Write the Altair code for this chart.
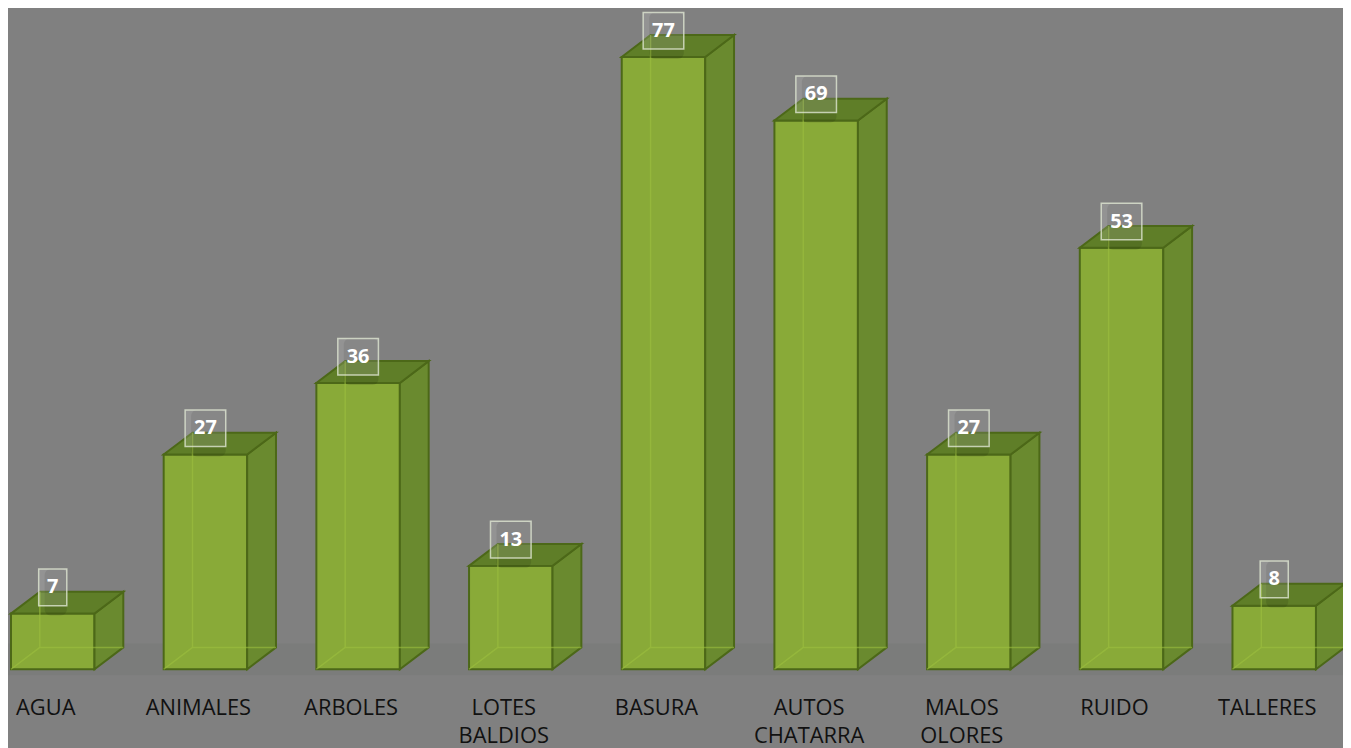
import altair as alt
import pandas as pd

categories = ["AGUA", "ANIMALES", "ARBOLES", "LOTES BALDIOS", "BASURA",
              "AUTOS CHATARRA", "MALOS OLORES", "RUIDO", "TALLERES"]
values = [7, 27, 36, 13, 77, 69, 27, 53, 8]
label_lines = [["AGUA"], ["ANIMALES"], ["ARBOLES"], ["LOTES", "BALDIOS"], ["BASURA"],
               ["AUTOS", "CHATARRA"], ["MALOS", "OLORES"], ["RUIDO"], ["TALLERES"]]

# geometry (in data units)
HW = 0.2734      # half width of front face
DX = 0.1888      # depth in x
DY = 2.75        # depth in y
W, H = 1343, 740
XMIN, XMAX = -0.293, -0.293 + W / 153.6
YMIN = -(H - 663) / 8.0
YMAX = YMIN + H / 8.0

front, side, top, edges, boxes, labels = [], [], [], [], [], []
for i, (c, v) in enumerate(zip(categories, values)):
    L, R = i - HW, i + HW
    front.append(dict(cat=c, x=L, x2=R, y=0, y2=v))
    side.append(dict(cat=c, x=R, y=v, y2=0))
    side.append(dict(cat=c, x=R + DX, y=v + DY, y2=DY))
    top.append(dict(cat=c, y=v, x=L, x2=R))
    top.append(dict(cat=c, y=v + DY, x=L + DX, x2=R + DX))
    edges.append(dict(cat=c, x=L + DX, x2=L + DX, y=DY, y2=v + DY))
    edges.append(dict(cat=c, x=L + DX, x2=R + DX, y=DY, y2=DY))
    edges.append(dict(cat=c, x=L, x2=L + DX, y=0, y2=DY))
    bw = 0.092 if len(str(v)) == 1 else 0.133
    boxes.append(dict(cat=c, x=i - bw, x2=i + bw, y=v + 3.3 - 2.3, y2=v + 3.3 + 2.3,
                      yc=v + 3.3, xc=i, t=str(v)))
    labels.append(dict(cat=c, x=i - 0.046, y=-4.9, t=label_lines[i]))

xs = alt.Scale(domain=[XMIN, XMAX], nice=False, zero=False)
ys = alt.Scale(domain=[YMIN, YMAX], nice=False, zero=False)
noax = None

floor = alt.Chart(pd.DataFrame([dict(x=XMIN, x2=XMAX, y=-0.75, y2=3.25)])).mark_rect(
    color="#7b7c7b").encode(
    x=alt.X("x:Q", scale=xs, axis=noax), x2="x2:Q",
    y=alt.Y("y:Q", scale=ys, axis=noax), y2="y2:Q")

front_l = alt.Chart(pd.DataFrame(front)).mark_rect(
    color="#89aa38", stroke="#4c6818", strokeWidth=2).encode(
    x=alt.X("x:Q", scale=xs, axis=noax), x2="x2:Q",
    y=alt.Y("y:Q", scale=ys, axis=noax), y2="y2:Q")

side_l = alt.Chart(pd.DataFrame(side)).mark_area(
    color="#6a8a2f", stroke="#4c6818", strokeWidth=2, line=False, interpolate="linear").encode(
    x=alt.X("x:Q", scale=xs, axis=noax),
    y=alt.Y("y:Q", scale=ys, axis=noax), y2="y2:Q",
    detail="cat:N")

top_l = alt.Chart(pd.DataFrame(top)).mark_area(
    color="#5f7e28", stroke="#4c6818", strokeWidth=2, orient="horizontal").encode(
    y=alt.Y("y:Q", scale=ys, axis=noax),
    x=alt.X("x:Q", scale=xs, axis=noax), x2="x2:Q",
    detail="cat:N")

edge_l = alt.Chart(pd.DataFrame(edges)).mark_rule(
    color="#9cbf40", strokeWidth=1.5, opacity=0.6).encode(
    x=alt.X("x:Q", scale=xs, axis=noax), x2="x2:Q",
    y=alt.Y("y:Q", scale=ys, axis=noax), y2="y2:Q")

shadow_l = alt.Chart(pd.DataFrame(boxes)).mark_rect(
    color="#000000", opacity=0.1, cornerRadius=6).encode(
    x=alt.X("x:Q", scale=xs, axis=noax), x2="x2:Q",
    y=alt.Y("y:Q", scale=ys, axis=noax), y2="y2:Q",
    xOffset=alt.value(6), yOffset=alt.value(10))

box_l = alt.Chart(pd.DataFrame(boxes)).mark_rect(
    fill="#ffffff", fillOpacity=0.15, stroke="#dfe6d2", strokeWidth=1.5, strokeOpacity=0.8).encode(
    x=alt.X("x:Q", scale=xs, axis=noax), x2="x2:Q",
    y=alt.Y("y:Q", scale=ys, axis=noax), y2="y2:Q")

num_l = alt.Chart(pd.DataFrame(boxes)).mark_text(
    color="white", font="Open Sans", fontWeight="bold", fontSize=20, baseline="middle").encode(
    x=alt.X("xc:Q", scale=xs, axis=noax),
    y=alt.Y("yc:Q", scale=ys, axis=noax),
    text="t:N")

lab_l = alt.Chart(pd.DataFrame(labels)).mark_text(
    color="#111111", font="Open Sans", fontSize=22, baseline="middle", lineHeight=28).encode(
    x=alt.X("x:Q", scale=xs, axis=noax),
    y=alt.Y("y:Q", scale=ys, axis=noax),
    text="t")

chart = alt.layer(floor, front_l, side_l, top_l, edge_l, shadow_l, box_l, num_l, lab_l).properties(
    width=W, height=H, background="#808080", padding=0,
    autosize=alt.AutoSizeParams(type="none")
).configure_view(stroke=None, fill="#808080")

chart.save("out.html", embed_options={"renderer": "svg", "actions": False})
